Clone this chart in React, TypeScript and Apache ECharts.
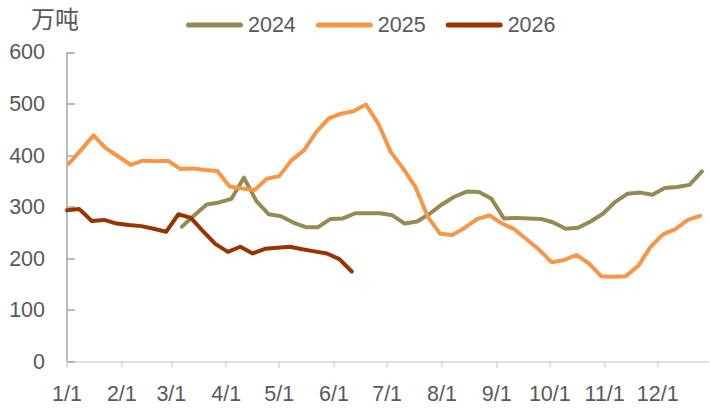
import React, { useEffect, useRef } from "react";
import * as echarts from "echarts";

// x positions are days since Jan 1 (common calendar); weekly observations
const monthStartDays = [0, 31, 59, 90, 120, 151, 181, 212, 243, 273, 304, 334];
const monthLabels = ["1/1", "2/1", "3/1", "4/1", "5/1", "6/1", "7/1", "8/1", "9/1", "10/1", "11/1", "12/1"];

const seriesNames = ["2024", "2025", "2026"];
const seriesColors = ["#948A54", "#F79646", "#993300"];
// first observation day (days after Jan 1) for each year's weekly series
const startDays = [65, 1, 0];

const values2024 = [
  262, 284, 305, 309, 316, 357, 312, 286, 282, 270,
  261, 261, 277, 278, 288, 288, 288, 284, 268, 272,
  287, 305, 320, 330, 329, 316, 278, 279, 278, 277,
  270, 258, 260, 272, 287, 310, 326, 328, 324, 337,
  339, 343, 369,
];
const values2025 = [
  384, 411, 439, 414, 398, 382, 390, 389, 390, 374,
  375, 372, 370, 340, 336, 333, 355, 360, 391, 410,
  446, 472, 481, 486, 499, 462, 407, 375, 339, 281,
  248, 246, 260, 277, 284, 268, 257, 237, 217, 193,
  197, 207, 191, 166, 165, 166, 186, 223, 247, 257,
  275, 283,
];
const values2026 = [
  294, 296, 273, 275, 268, 265, 263, 258, 252, 286,
  279, 253, 228, 213, 223, 210, 219, 221, 223, 218,
  214, 210, 199, 175,
];
const allValues = [values2024, values2025, values2026];

const unitLabel = "万吨";
const yTicks = { min: 0, max: 600, interval: 100 };

const FONT = "'Liberation Sans', Arial, sans-serif";
const TEXT_COLOR = "#595959";

export default function App() {
  const ref = useRef<HTMLDivElement>(null);

  useEffect(() => {
    if (!ref.current) return;
    const chart = echarts.init(ref.current, undefined, { renderer: "svg" });

    const series = allValues.map((vals, si) => ({
      name: seriesNames[si],
      type: "line",
      data: vals.map((v, i) => [startDays[si] + 7 * i, v]),
      showSymbol: false,
      symbol: "none",
      smooth: false,
      lineStyle: { color: seriesColors[si], width: 4, cap: "round", join: "round" },
      itemStyle: { color: seriesColors[si] },
      emphasis: { disabled: true },
    }));

    const option: any = {
      animation: false,
      textStyle: { fontFamily: FONT },
      grid: { left: 67, right: 1, top: 52.4, bottom: 48.3 },
      legend: {
        data: seriesNames,
        left: 181,
        top: 9,
        itemWidth: 57,
        itemHeight: 5,
        itemGap: 20,
        icon: "path://M2.5,0 L54.5,0 A2.5,2.5 0 0 1 54.5,5 L2.5,5 A2.5,2.5 0 0 1 2.5,0 Z",
        textStyle: { color: TEXT_COLOR, fontSize: 21.5, fontFamily: FONT },
      },
      graphic: [
        {
          type: "text",
          left: 31,
          top: 5,
          style: {
            text: unitLabel,
            fontSize: 24,
            fontFamily: "'Noto Sans CJK SC', sans-serif",
            fill: TEXT_COLOR,
          },
        },
      ],
      xAxis: {
        type: "value",
        min: 0,
        max: 363,
        axisLine: { show: true, onZero: false, lineStyle: { color: "#d9d9d9", width: 1.5 } },
        axisTick: {
          show: true,
          length: 6,
          customValues: monthStartDays,
          lineStyle: { color: "#d9d9d9", width: 1.5 },
        },
        axisLabel: {
          customValues: monthStartDays,
          formatter: (v: number) => {
            const idx = monthStartDays.indexOf(v);
            return idx >= 0 ? monthLabels[idx] : "";
          },
          color: TEXT_COLOR,
          fontSize: 21.5,
          fontFamily: FONT,
          margin: 21,
        },
        splitLine: { show: false },
      },
      yAxis: {
        type: "value",
        min: yTicks.min,
        max: yTicks.max,
        interval: yTicks.interval,
        axisLine: { show: true, onZero: false, lineStyle: { color: "#a6a6a6", width: 1.5 } },
        axisTick: { show: true, inside: true, length: 8, lineStyle: { color: "#a6a6a6", width: 1.5 } },
        axisLabel: { color: TEXT_COLOR, fontSize: 21.5, fontFamily: FONT, margin: 22 },
        splitLine: { show: false },
      },
      series,
    };

    chart.setOption(option);
    return () => chart.dispose();
  }, []);

  return (
    <div
      ref={ref}
      style={{ position: "fixed", left: 0, top: 0, width: 710, height: 410, background: "#fff" }}
    />
  );
}
